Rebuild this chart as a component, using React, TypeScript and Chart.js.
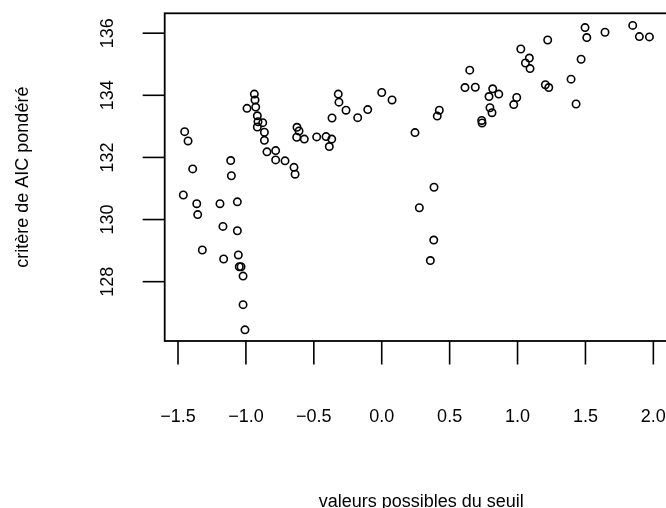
import React, { useEffect, useRef } from "react";
import { Chart, registerables } from "chart.js";

Chart.register(...registerables);

const xValues = [
  -1.451, -1.426, -1.392, -1.112, -1.107, -0.938, -0.933, -0.992, -0.928, -0.916,
  -0.911, -0.876, -0.916, -0.864, -0.864, -0.845, -0.781, -0.781, -0.712, -0.646,
  -0.638, -0.624, -0.609, -0.626, -0.570, -0.479, -0.410, -0.368, -0.386, -0.366,
  -0.320, -0.315, -0.263, -0.177, -0.103, 0.000, 0.076, 0.245, 0.409, 0.424,
  0.613, 0.648, 0.689, 0.385, 0.277, 0.383, 0.358, -1.461, -1.362, -1.191,
  -1.063, -1.355, -1.169, -1.063, -1.321, -1.164, -1.056, -1.049, -1.036, -1.021,
  -1.021, -1.007, 0.817, 0.790, 0.862, 0.797, 0.812, 0.736, 0.739, 0.994,
  0.972, 1.024, 1.087, 1.058, 1.092, 1.222, 1.205, 1.230, 1.394, 1.431,
  1.468, 1.497, 1.510, 1.644, 1.848, 1.897, 1.971,
];
const yValues = [
  132.83, 132.53, 131.63, 131.90, 131.41, 134.04, 133.85, 133.58, 133.62, 133.34,
  133.15, 133.12, 132.98, 132.81, 132.55, 132.18, 132.22, 131.92, 131.89, 131.68,
  131.46, 132.97, 132.85, 132.65, 132.59, 132.66, 132.67, 132.59, 132.35, 133.27,
  134.04, 133.78, 133.52, 133.28, 133.54, 134.09, 133.85, 132.80, 133.33, 133.52,
  134.25, 134.81, 134.26, 131.04, 130.38, 129.34, 128.68, 130.79, 130.51, 130.51,
  130.57, 130.16, 129.78, 129.64, 129.02, 128.73, 128.86, 128.48, 128.48, 128.18,
  127.26, 126.45, 134.21, 133.96, 134.04, 133.60, 133.44, 133.19, 133.11, 133.93,
  133.70, 135.49, 135.20, 135.04, 134.86, 135.78, 134.34, 134.25, 134.52, 133.72,
  135.16, 136.18, 135.86, 136.03, 136.25, 135.89, 135.88,
];

const xTicks = [-1.5, -1.0, -0.5, 0.0, 0.5, 1.0, 1.5, 2.0];
const xTickLabels = ["\u22121.5", "\u22121.0", "\u22120.5", "0.0", "0.5", "1.0", "1.5", "2.0"];
const yTicks = [128, 130, 132, 134, 136];
const yTickLabels = ["128", "130", "132", "134", "136"];

const xTitle = "valeurs possibles du seuil";
const yTitle = "critère de AIC pondéré";

const FONT = '18px "Liberation Sans", Arial, Helvetica, sans-serif';

const axesPlugin = {
  id: "rAxes",
  afterDraw(chart: any) {
    const ctx = chart.ctx;
    const area = chart.chartArea;
    const xs = chart.scales.x;
    const ys = chart.scales.y;
    ctx.save();
    ctx.strokeStyle = "#000";
    ctx.fillStyle = "#000";
    // box
    ctx.lineWidth = 1.8;
    ctx.strokeRect(area.left, area.top, area.right - area.left, area.bottom - area.top);
    // x ticks
    ctx.lineWidth = 1.6;
    ctx.font = FONT;
    ctx.textAlign = "center";
    ctx.textBaseline = "alphabetic";
    xTicks.forEach((v, i) => {
      const px = xs.getPixelForValue(v);
      ctx.beginPath();
      ctx.moveTo(px, area.bottom);
      ctx.lineTo(px, area.bottom + 23.5);
      ctx.stroke();
      ctx.fillText(xTickLabels[i], px, 422);
    });
    // y ticks
    yTicks.forEach((v, i) => {
      const py = ys.getPixelForValue(v);
      ctx.beginPath();
      ctx.moveTo(area.left, py);
      ctx.lineTo(area.left - 22, py);
      ctx.stroke();
      ctx.save();
      ctx.translate(113, py);
      ctx.rotate(-Math.PI / 2);
      ctx.textAlign = "center";
      ctx.textBaseline = "alphabetic";
      ctx.fillText(yTickLabels[i], 0, 0);
      ctx.restore();
    });
    // titles
    ctx.textAlign = "center";
    ctx.textBaseline = "alphabetic";
    ctx.fillText(xTitle, (area.left + area.right) / 2, 507);
    ctx.save();
    ctx.translate(28, (area.top + area.bottom) / 2);
    ctx.rotate(-Math.PI / 2);
    ctx.fillText(yTitle, 0, 0);
    ctx.restore();
    ctx.restore();
  },
};

export default function App() {
  const ref = useRef<HTMLCanvasElement | null>(null);
  useEffect(() => {
    if (!ref.current) return;
    const data = xValues.map((x, i) => ({ x, y: yValues[i] }));
    const chart = new Chart(ref.current, {
      type: "scatter",
      data: {
        datasets: [
          {
            data,
            pointStyle: "circle",
            pointRadius: 3.7,
            pointBorderWidth: 1.6,
            pointBorderColor: "#000",
            pointBackgroundColor: "rgba(0,0,0,0)",
            borderColor: "#000",
            backgroundColor: "rgba(0,0,0,0)",
          } as any,
        ],
      },
      options: {
        responsive: false,
        animation: false,
        events: [],
        layout: { padding: { left: 164.7, top: 13.3, right: 22.2, bottom: 167 } },
        scales: {
          x: { type: "linear", min: -1.598, max: 2.18, display: false },
          y: { type: "linear", min: 126.09, max: 136.64, display: false },
        },
        plugins: { legend: { display: false }, tooltip: { enabled: false } },
      },
      plugins: [axesPlugin],
    });
    return () => chart.destroy();
  }, []);
  return (
    <div
      style={{
        position: "absolute",
        left: 0,
        top: 0,
        width: 666,
        height: 508,
        overflow: "hidden",
        background: "#fff",
      }}
    >
      <canvas ref={ref} width={700} height={508} style={{ width: 700, height: 508, display: "block" }} />
    </div>
  );
}
